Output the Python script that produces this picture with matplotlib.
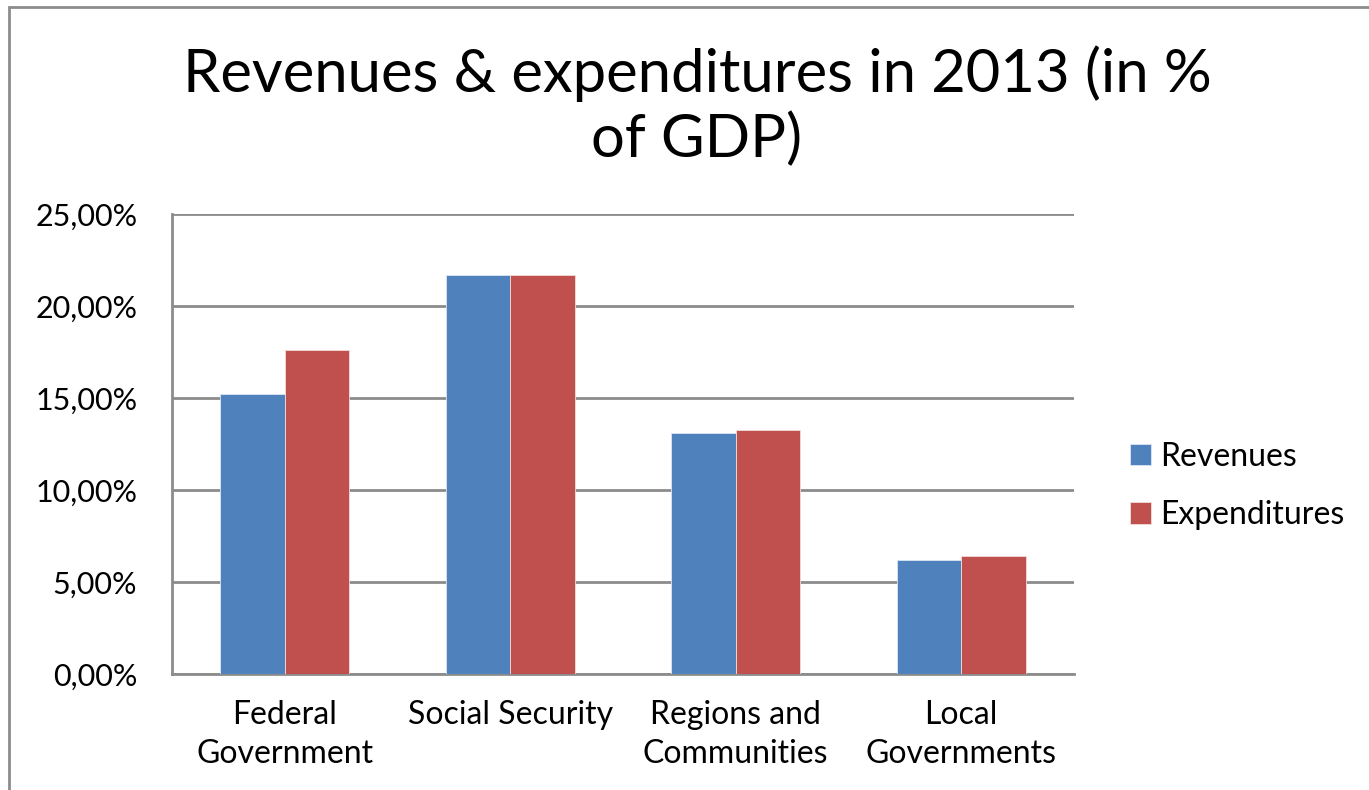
import numpy as np
import matplotlib
matplotlib.use("Agg")
import matplotlib.pyplot as plt
from matplotlib.patches import Rectangle
from matplotlib.ticker import FuncFormatter

categories = ["Federal\nGovernment", "Social Security", "Regions and\nCommunities", "Local\nGovernments"]
revenues = [15.2, 21.7, 13.1, 6.2]
expenditures = [17.6, 21.7, 13.25, 6.4]
series_names = ["Revenues", "Expenditures"]
y_ticks = [0, 5, 10, 15, 20, 25]

plt.rcParams['font.family'] = ['Lato', 'DejaVu Sans']

fig = plt.figure(figsize=(13.69, 7.90), dpi=100)
# outer chart border (cut off on right and bottom)
fig.patches.append(Rectangle((9 / 1369, -0.05), 1.1, 1 - 7 / 790 + 0.05,
                             transform=fig.transFigure, fill=False,
                             edgecolor='#8c8c8c', linewidth=2))

ax = fig.add_axes([172 / 1369, 1 - 674 / 790, (1074 - 172) / 1369, (674 - 214) / 790])

x = np.arange(len(categories))
w = 0.285
ax.bar(x - w / 2, revenues, w, color='#4F81BD', edgecolor='#dce6f2', linewidth=0.6,
       label=series_names[0], zorder=3)
ax.bar(x + w / 2, expenditures, w, color='#C0504D', edgecolor='#f2dcdb', linewidth=0.6,
       label=series_names[1], zorder=3)

ax.set_xlim(-0.5, len(categories) - 0.5)
ax.set_ylim(0, 25)
ax.set_yticks(y_ticks)
ax.yaxis.set_major_formatter(FuncFormatter(lambda v, p: f"{v:.2f}%".replace('.', ',')))
ax.set_xticks(x)
ax.set_xticklabels(categories, fontsize=23, linespacing=1.35)
ax.tick_params(axis='y', length=0, labelsize=22, colors='black', pad=25)
ax.tick_params(axis='x', length=0, colors='black', pad=19)
ax.grid(axis='y', color='#8c8c8c', linewidth=2, zorder=0)
for s in ['top', 'right']:
    ax.spines[s].set_visible(False)
for s in ['left', 'bottom']:
    ax.spines[s].set_color('#8c8c8c')
    ax.spines[s].set_linewidth(2)

fig.text(697 / 1369, 1 - 106 / 790, "Revenues & expenditures in 2013 (in %\nof GDP)",
         ha='center', va='center', fontsize=43, linespacing=1.2)

fig.legend(loc='center left', bbox_to_anchor=(1101 / 1369, 1 - 486 / 790), frameon=False,
           fontsize=23, handlelength=0.65, handleheight=0.65, handletextpad=0.3,
           labelspacing=0.9)

fig.savefig("out.png", dpi=100)
